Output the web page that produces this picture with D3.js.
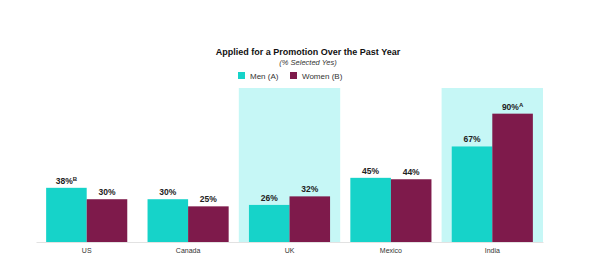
<!DOCTYPE html>
<html>
<head>
<meta charset="utf-8">
<script src="https://cdn.jsdelivr.net/npm/d3@7"></script>
<style>
  body { margin: 0; background: #fff; }
  text { font-family: "Liberation Sans", Arial, sans-serif; }
</style>
</head>
<body>
<svg id="chart" width="600" height="275"></svg>
<script>
const countries = ["US", "Canada", "UK", "Mexico", "India"];
const menValues = [38, 30, 26, 45, 67];
const womenValues = [30, 25, 32, 44, 90];
const menMarks = ["B", "", "", "", ""];
const womenMarks = ["", "", "", "", "A"];
const highlighted = ["UK", "India"];
const seriesNames = ["Men (A)", "Women (B)"];

const colors = { men: "#16d3c9", women: "#7e1a4b", box: "#c6f7f6" };

const svg = d3.select("#chart");
const margin = { top: 88, right: 57, bottom: 33, left: 36 };
const width = 600 - margin.left - margin.right;
const height = 275 - margin.top - margin.bottom;

const g = svg.append("g")
  .attr("transform", `translate(${margin.left},${margin.top})`);

const x = d3.scaleBand().domain(countries).range([0, width]).padding(0);
const inner = d3.scaleBand().domain(["men", "women"]).range([x.bandwidth() * 0.1, x.bandwidth() * 0.9]).padding(0);
const y = d3.scaleLinear().domain([0, 108]).range([height, 0]);

// highlight panels
g.selectAll(".hl")
  .data(highlighted)
  .join("rect")
  .attr("class", "hl")
  .attr("x", d => x(d))
  .attr("y", y(108))
  .attr("width", x.bandwidth())
  .attr("height", height - y(108))
  .attr("fill", colors.box);

const rows = countries.map((c, i) => ({
  country: c,
  bars: [
    { key: "men", value: menValues[i], mark: menMarks[i] },
    { key: "women", value: womenValues[i], mark: womenMarks[i] }
  ]
}));

const groups = g.selectAll(".group")
  .data(rows)
  .join("g")
  .attr("class", "group")
  .attr("transform", d => `translate(${x(d.country)},0)`);

groups.selectAll("rect")
  .data(d => d.bars)
  .join("rect")
  .attr("x", d => inner(d.key))
  .attr("y", d => y(d.value))
  .attr("width", inner.bandwidth())
  .attr("height", d => height - y(d.value))
  .attr("fill", d => colors[d.key]);

const labels = groups.selectAll(".val")
  .data(d => d.bars)
  .join("text")
  .attr("class", "val")
  .attr("x", d => inner(d.key) + inner.bandwidth() / 2)
  .attr("y", d => y(d.value) - 4)
  .attr("text-anchor", "middle")
  .attr("font-size", 8.5)
  .attr("font-weight", "bold")
  .attr("fill", "#222");
labels.append("tspan").text(d => d.value + "%");
labels.filter(d => d.mark)
  .append("tspan")
  .attr("dy", -3)
  .attr("font-size", 6)
  .text(d => d.mark);

// baseline axis
const xAxis = g.append("g")
  .attr("transform", `translate(0,${height})`)
  .call(d3.axisBottom(x).tickSize(0).tickPadding(6));
xAxis.select(".domain").attr("stroke", "#e2e2e2");
xAxis.selectAll("text")
  .attr("font-size", 7)
  .attr("fill", "#333")
  .style("font-family", "Liberation Sans, Arial, sans-serif");

// title
svg.append("text")
  .attr("x", 308).attr("y", 55)
  .attr("text-anchor", "middle")
  .attr("font-size", 9)
  .attr("font-weight", "bold")
  .attr("fill", "#111")
  .text("Applied for a Promotion Over the Past Year");
svg.append("text")
  .attr("x", 308).attr("y", 64.5)
  .attr("text-anchor", "middle")
  .attr("font-size", 7.5)
  .attr("font-style", "italic")
  .attr("fill", "#333")
  .text("(% Selected Yes)");

// legend
const legendX = [238, 290];
const legend = svg.selectAll(".legend")
  .data(seriesNames)
  .join("g")
  .attr("class", "legend")
  .attr("transform", (d, i) => `translate(${legendX[i]},72)`);
legend.append("rect")
  .attr("width", 7).attr("height", 7)
  .attr("fill", (d, i) => i === 0 ? colors.men : colors.women);
legend.append("text")
  .attr("x", 12).attr("y", 6.5)
  .attr("font-size", 8)
  .attr("fill", "#333")
  .text(d => d);
</script>
</body>
</html>
